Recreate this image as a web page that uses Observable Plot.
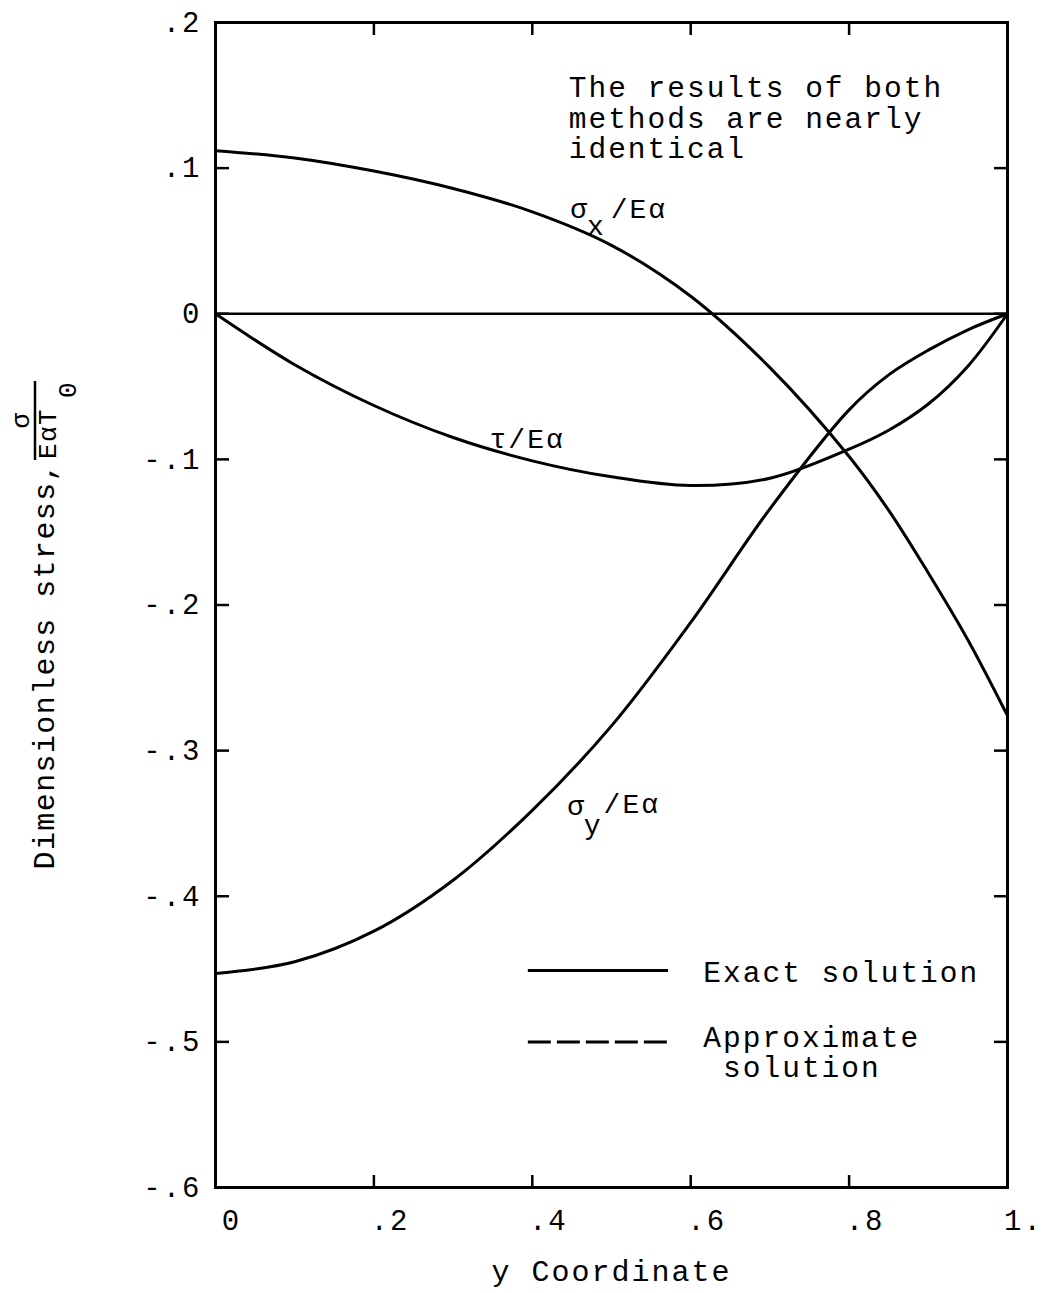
<!DOCTYPE html>
<html><head><meta charset="utf-8">
<script src="https://cdn.jsdelivr.net/npm/d3@7"></script>
<script src="https://cdn.jsdelivr.net/npm/@observablehq/plot@0.6"></script>
<style>body{margin:0;background:#fff}</style>
</head><body><div id="chart"></div>
<script>
// ---- data ----
const yCoord = [0, 0.1, 0.2, 0.3, 0.4, 0.5, 0.6, 0.7, 0.8, 0.85, 0.9, 0.95, 1];
const sigmaX = [0.112, 0.107, 0.098, 0.086, 0.070, 0.047, 0.012, -0.037, -0.098, -0.135, -0.178, -0.224, -0.276];
const tau    = [0, -0.035, -0.063, -0.085, -0.101, -0.112, -0.118, -0.113, -0.093, -0.080, -0.062, -0.036, 0];
const sigmaY = [-0.453, -0.445, -0.424, -0.389, -0.341, -0.283, -0.212, -0.134, -0.066, -0.042, -0.025, -0.011, 0];
const xTicks = [0, 0.2, 0.4, 0.6, 0.8, 1];
const xTickLabels = ["0", ".2", ".4", ".6", ".8", "1."];
const xInnerTicks = [0.2, 0.4, 0.6, 0.8];
const yTicks = [0.2, 0.1, 0, -0.1, -0.2, -0.3, -0.4, -0.5, -0.6];
const yTickLabels = [".2", ".1", "0", "-.1", "-.2", "-.3", "-.4", "-.5", "-.6"];
const legendLabels = ["Exact solution", "Approximate\n solution"];
const noteText = "The results of both\nmethods are nearly\nidentical";
const xLabel = "y Coordinate";

const rows = [];
yCoord.forEach((x, i) => {
  rows.push({x, v: sigmaX[i], s: "sx"});
  rows.push({x, v: tau[i], s: "tau"});
  rows.push({x, v: sigmaY[i], s: "sy"});
});

const FONT = "Liberation Mono, Courier New, monospace";
const legendRows = [
  {x1: 0.395, x2: 0.572, y: -0.451, dash: false, tx: 0.616, ty: -0.452, label: legendLabels[0]},
  {x1: 0.395, x2: 0.572, y: -0.500, dash: true, tx: 0.616, ty: -0.507, label: legendLabels[1]}
];

const chart = Plot.plot({
  width: 1046, height: 1293,
  marginLeft: 215, marginRight: 39, marginTop: 22, marginBottom: 106,
  x: {domain: [0, 1]},
  y: {domain: [-0.6, 0.2]},
  style: {fontFamily: FONT, fontSize: "29px", color: "#000", background: "#fff", letterSpacing: "2px"},
  marks: [
    Plot.frame({strokeWidth: 3}),
    Plot.ruleY([0], {strokeWidth: 2.5}),
    Plot.line(rows, {x: "x", y: "v", z: "s", curve: "catmull-rom", strokeWidth: 3}),
    // inward ticks
    Plot.axisY(yTicks, {anchor: "left", tickSize: -14, tickFormat: () => "", strokeWidth: 2.5}),
    Plot.axisY(yTicks, {anchor: "right", tickSize: -14, tickFormat: () => "", strokeWidth: 2.5}),
    Plot.axisX(xInnerTicks, {anchor: "top", tickSize: -12, tickFormat: () => "", strokeWidth: 2.5}),
    Plot.axisX(xInnerTicks, {anchor: "bottom", tickSize: -12, tickFormat: () => "", strokeWidth: 2.5}),
    // tick labels
    Plot.axisY(yTicks, {anchor: "left", tickSize: 0, tickPadding: 14, fontSize: 29,
      tickFormat: d => yTickLabels[yTicks.indexOf(d)]}),
    Plot.axisX(xTicks, {anchor: "bottom", tickSize: 0, tickPadding: 22, dx: 16, fontSize: 29,
      tickFormat: d => xTickLabels[xTicks.indexOf(d)]}),
    Plot.text([xLabel], {frameAnchor: "bottom", dy: 93, text: d => d, fontSize: 30}),
    // annotation
    Plot.text([noteText], {x: 0.446, y: 0.1345, text: d => d, textAnchor: "start", lineAnchor: "middle", lineHeight: 1.02, fontSize: 29.5}),
    // curve labels
    Plot.text(["σ"], {x: 0.448, y: 0.072, text: d => d, textAnchor: "start", fontSize: 28}),
    Plot.text(["x"], {x: 0.469, y: 0.060, text: d => d, textAnchor: "start", fontSize: 28}),
    Plot.text(["/Eα"], {x: 0.499, y: 0.072, text: d => d, textAnchor: "start", fontSize: 28}),
    Plot.text(["τ/Eα"], {x: 0.346, y: -0.0858, text: d => d, textAnchor: "start", fontSize: 28}),
    Plot.text(["σ"], {x: 0.444, y: -0.338, text: d => d, textAnchor: "start", fontSize: 28}),
    Plot.text(["y"], {x: 0.465, y: -0.351, text: d => d, textAnchor: "start", fontSize: 28}),
    Plot.text(["/Eα"], {x: 0.490, y: -0.337, text: d => d, textAnchor: "start", fontSize: 28}),
    // legend
    Plot.ruleY(legendRows.filter(d => !d.dash), {x1: "x1", x2: "x2", y: "y", strokeWidth: 3}),
    Plot.ruleY(legendRows.filter(d => d.dash), {x1: "x1", x2: "x2", y: "y", strokeWidth: 3, strokeDasharray: "23,6"}),
    Plot.text(legendRows, {x: "tx", y: "ty", text: "label", textAnchor: "start", lineAnchor: "middle", lineHeight: 1.02, fontSize: 29.5})
  ]
});

// y-axis title with fraction (rotated)
const svg = d3.select(chart);
const g = svg.append("g").attr("transform", "rotate(-90)")
  .attr("font-family", FONT).attr("fill", "#000").style("letter-spacing", "1.4px");
g.append("text").attr("x", -462).attr("y", 54).attr("text-anchor", "end")
  .attr("font-size", 30).text("Dimensionless stress,");
g.append("text").attr("x", -420).attr("y", 29).attr("text-anchor", "middle")
  .attr("font-size", 26).text("σ");
g.append("line").attr("x1", -460).attr("x2", -381).attr("y1", 35).attr("y2", 35)
  .attr("stroke", "#000").attr("stroke-width", 2.5);
g.append("text").attr("x", -459).attr("y", 56).attr("text-anchor", "start")
  .attr("font-size", 26).text("EαT");
g.append("text").attr("x", -398).attr("y", 76).attr("text-anchor", "start")
  .attr("font-size", 26).text("0");

document.getElementById("chart").appendChild(chart);
</script>
</body></html>
